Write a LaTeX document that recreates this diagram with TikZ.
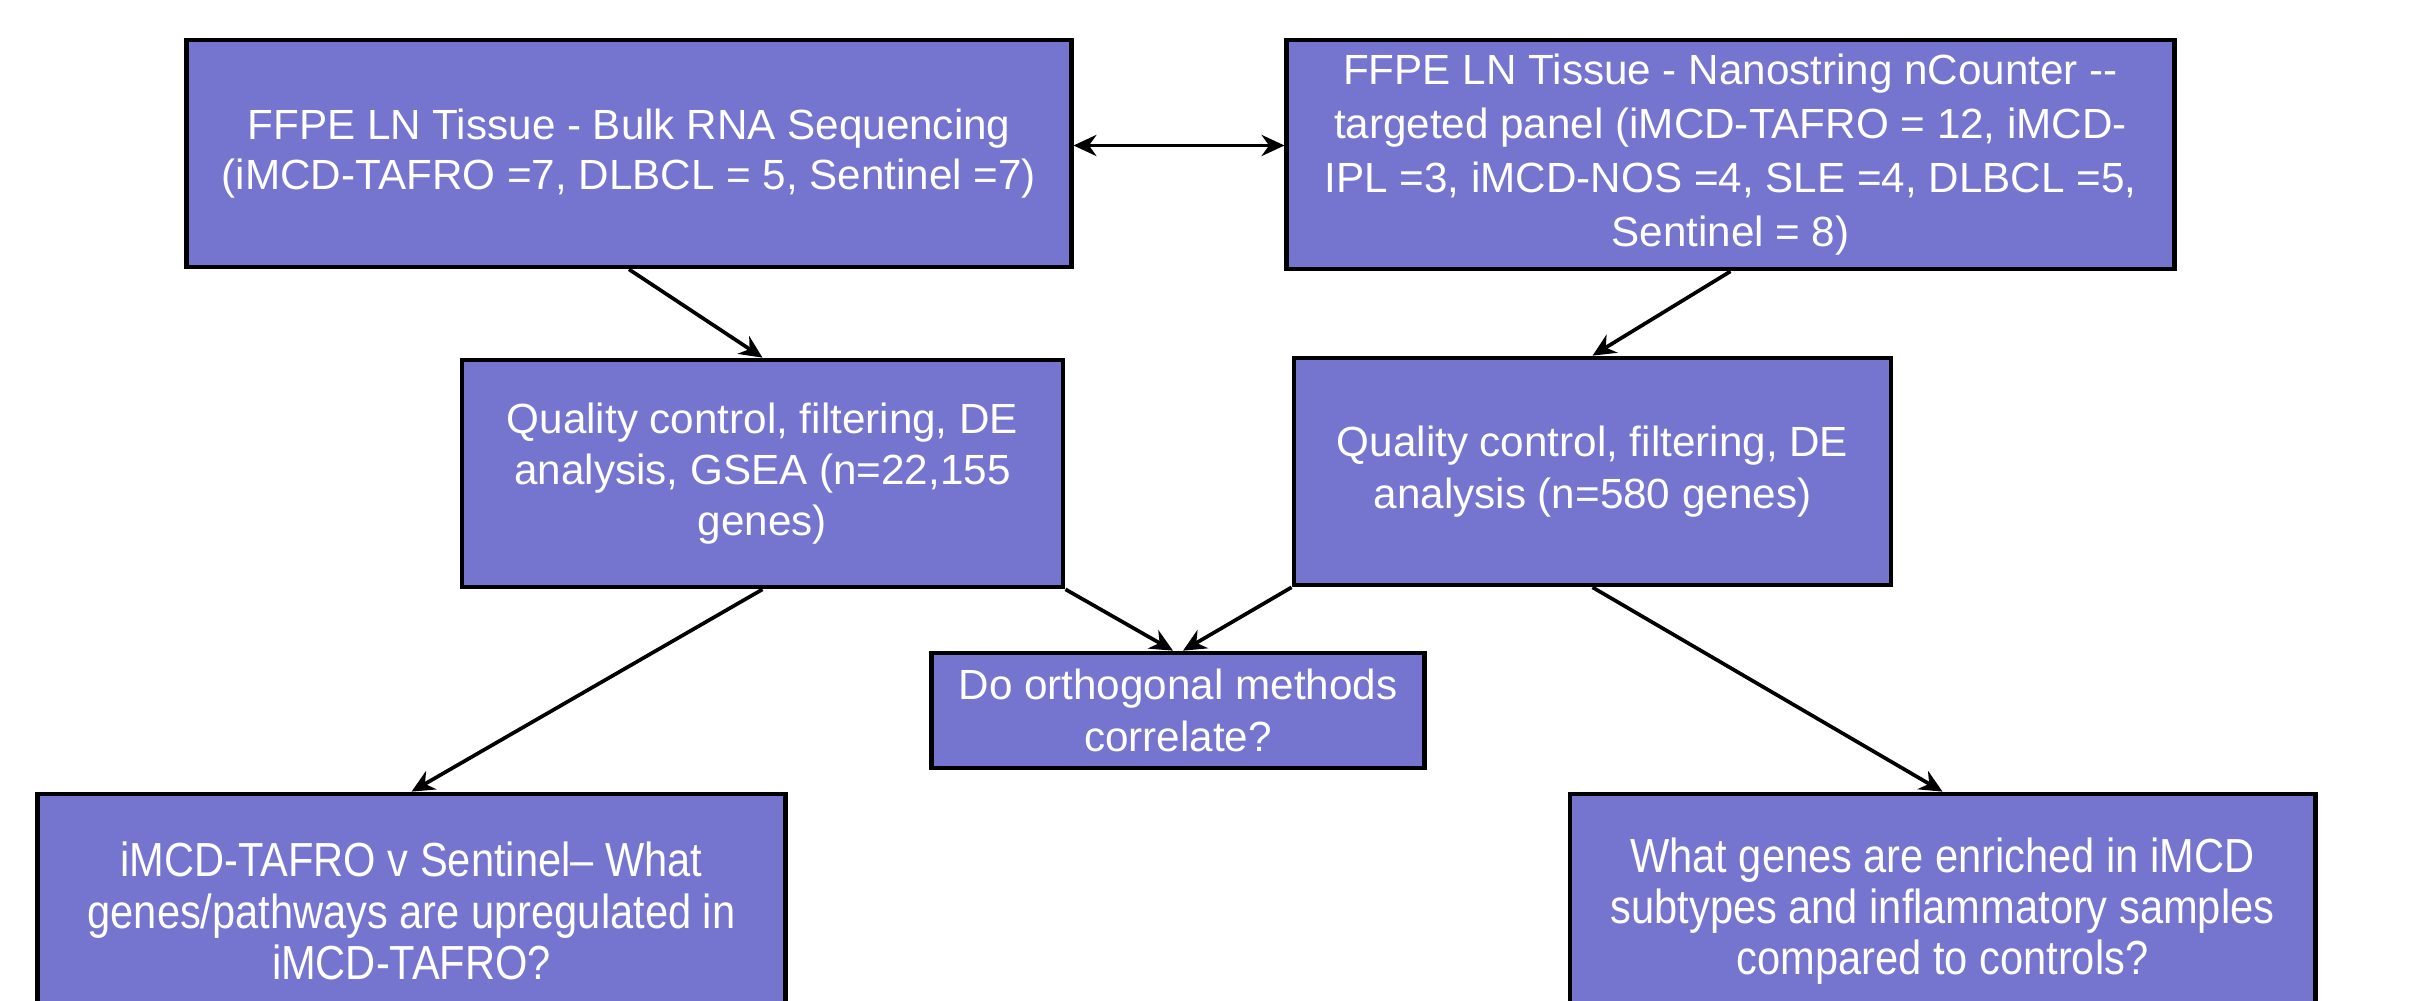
\documentclass[tikz,border=0pt]{standalone}
\usepackage{fontspec}
\setmainfont{Liberation Sans}
\newfontfamily\narrowsans{Liberation Sans}[FakeStretch=0.87]
\usetikzlibrary{arrows.meta}
\definecolor{boxfill}{RGB}{117,117,208}
\begin{document}
\begin{tikzpicture}[x=0.01cm, y=-0.01cm,
  flowbox/.style={draw=black, line width=1.3pt, fill=boxfill, text=white,
    align=center, inner sep=0pt},
  txt/.style={font=\fontsize{12}{#1}\selectfont},
  narrowtxt/.style={font=\narrowsans\fontsize{13.6}{14.6}\selectfont},
  tip/.style={Stealth[length=6.5pt, width=6pt]},
  link/.style={line width=1.05pt, -{Stealth[length=6.5pt, width=6pt]}},
  bothlink/.style={line width=1.05pt, {Stealth[length=6.5pt, width=6pt]}-{Stealth[length=6.5pt, width=6pt]}},
]
\useasboundingbox (0,0) rectangle (2409,1001);

% sequencing inputs
\node[flowbox, txt=14, minimum width=8.84cm, minimum height=2.27cm] (bulk) at (629,153.5)
  {FFPE LN Tissue - Bulk RNA Sequencing\\(iMCD-TAFRO =7, DLBCL = 5, Sentinel =7)};
\node[flowbox, txt=15.3, minimum width=8.87cm, minimum height=2.29cm] (nano) at (1730.5,154.5)
  {FFPE LN Tissue - Nanostring nCounter -{}-\\targeted panel (iMCD-TAFRO = 12, iMCD-\\IPL =3, iMCD-NOS =4, SLE =4, DLBCL =5,\\Sentinel = 8)};

% analysis steps
\node[flowbox, txt=14.6, minimum width=6.01cm, minimum height=2.27cm] (qcbulk) at (762.5,473.5)
  {Quality control, filtering, DE\\analysis, GSEA (n=22,155\\genes)};
\node[flowbox, txt=14.6, minimum width=5.97cm, minimum height=2.27cm] (qcnano) at (1592.5,471.5)
  {Quality control, filtering, DE\\analysis (n=580 genes)};

% questions
\node[flowbox, txt=14.6, minimum width=4.93cm, minimum height=1.15cm] (ortho) at (1178,710.5)
  {Do orthogonal methods\\correlate?};
\node[flowbox, narrowtxt, minimum width=7.47cm, minimum height=2.34cm] (tafro) at (411.5,911)
  {iMCD-TAFRO v Sentinel– What\\genes/pathways are upregulated in\\iMCD-TAFRO?};
\node[flowbox, narrowtxt, minimum width=7.45cm, minimum height=2.34cm] (enrich) at (1942.5,911)
  {What genes are enriched in iMCD\\subtypes and inflammatory samples\\compared to controls?};

% connectors
\draw[bothlink] ([yshift=0.08cm]bulk.east) -- ([yshift=0.08cm]bulk.east -| nano.west);
\draw[link] (bulk.south) -- (qcbulk.north);
\draw[link] (nano.south) -- (qcnano.north);
\draw[link] (qcbulk.south east) -- ([xshift=-0.05cm]ortho.north);
\draw[link] (qcnano.south west) -- ([xshift=0.05cm]ortho.north);
\draw[link] (qcbulk.south) -- (tafro.north);
\draw[link] (qcnano.south) -- (enrich.north);
\end{tikzpicture}
\end{document}
